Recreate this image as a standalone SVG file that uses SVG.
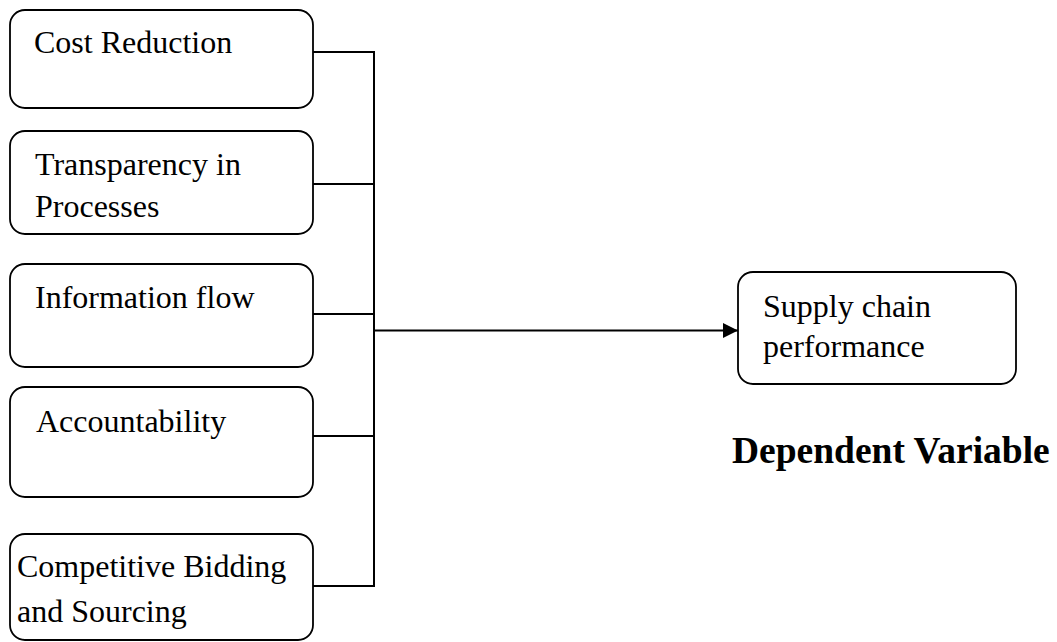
<svg xmlns="http://www.w3.org/2000/svg" width="1057" height="642" viewBox="0 0 1057 642">
<style>
.box{fill:#fff;stroke:#000;stroke-width:1.8}
.t{font-family:"Liberation Serif","Times New Roman",serif;font-size:32px;fill:#000}
.b{font-family:"Liberation Serif","Times New Roman",serif;font-size:37.5px;font-weight:bold;fill:#000}
.c{fill:none;stroke:#000;stroke-width:2}
</style>
<defs>
<marker id="ah" markerWidth="16" markerHeight="15" refX="15" refY="7.5" orient="auto" markerUnits="userSpaceOnUse">
<path d="M0,0 L15,7.5 L0,15 Z" fill="#000"/>
</marker>
</defs>
<rect width="1057" height="642" fill="#fff"/>
<g id="connectors">
<path class="c" d="M313,52 H374 V586 H313"/>
<path class="c" d="M313,184 H374"/>
<path class="c" d="M313,314 H374"/>
<path class="c" d="M313,436 H374"/>
<path class="c" d="M374,330.5 H738" marker-end="url(#ah)"/>
</g>
<g id="n1">
<rect class="box" x="10" y="10" width="303" height="98" rx="15"/>
<text class="t" x="34" y="53">Cost Reduction</text>
</g>
<g id="n2">
<rect class="box" x="10" y="131" width="303" height="103" rx="15"/>
<text class="t" x="35" y="175">Transparency in</text>
<text class="t" x="35" y="217">Processes</text>
</g>
<g id="n3">
<rect class="box" x="10" y="264" width="303" height="103" rx="15"/>
<text class="t" x="35" y="308">Information flow</text>
</g>
<g id="n4">
<rect class="box" x="10" y="387" width="303" height="110" rx="15"/>
<text class="t" x="36" y="432">Accountability</text>
</g>
<g id="n5">
<rect class="box" x="10" y="534" width="303" height="106" rx="15"/>
<text class="t" x="17" y="577">Competitive Bidding</text>
<text class="t" x="17" y="622">and Sourcing</text>
</g>
<g id="n6">
<rect class="box" x="738" y="272" width="278" height="112" rx="15"/>
<text class="t" x="763" y="317">Supply chain</text>
<text class="t" x="763" y="357">performance</text>
</g>
<g id="label">
<text class="b" x="732" y="463">Dependent Variable</text>
</g>
</svg>
